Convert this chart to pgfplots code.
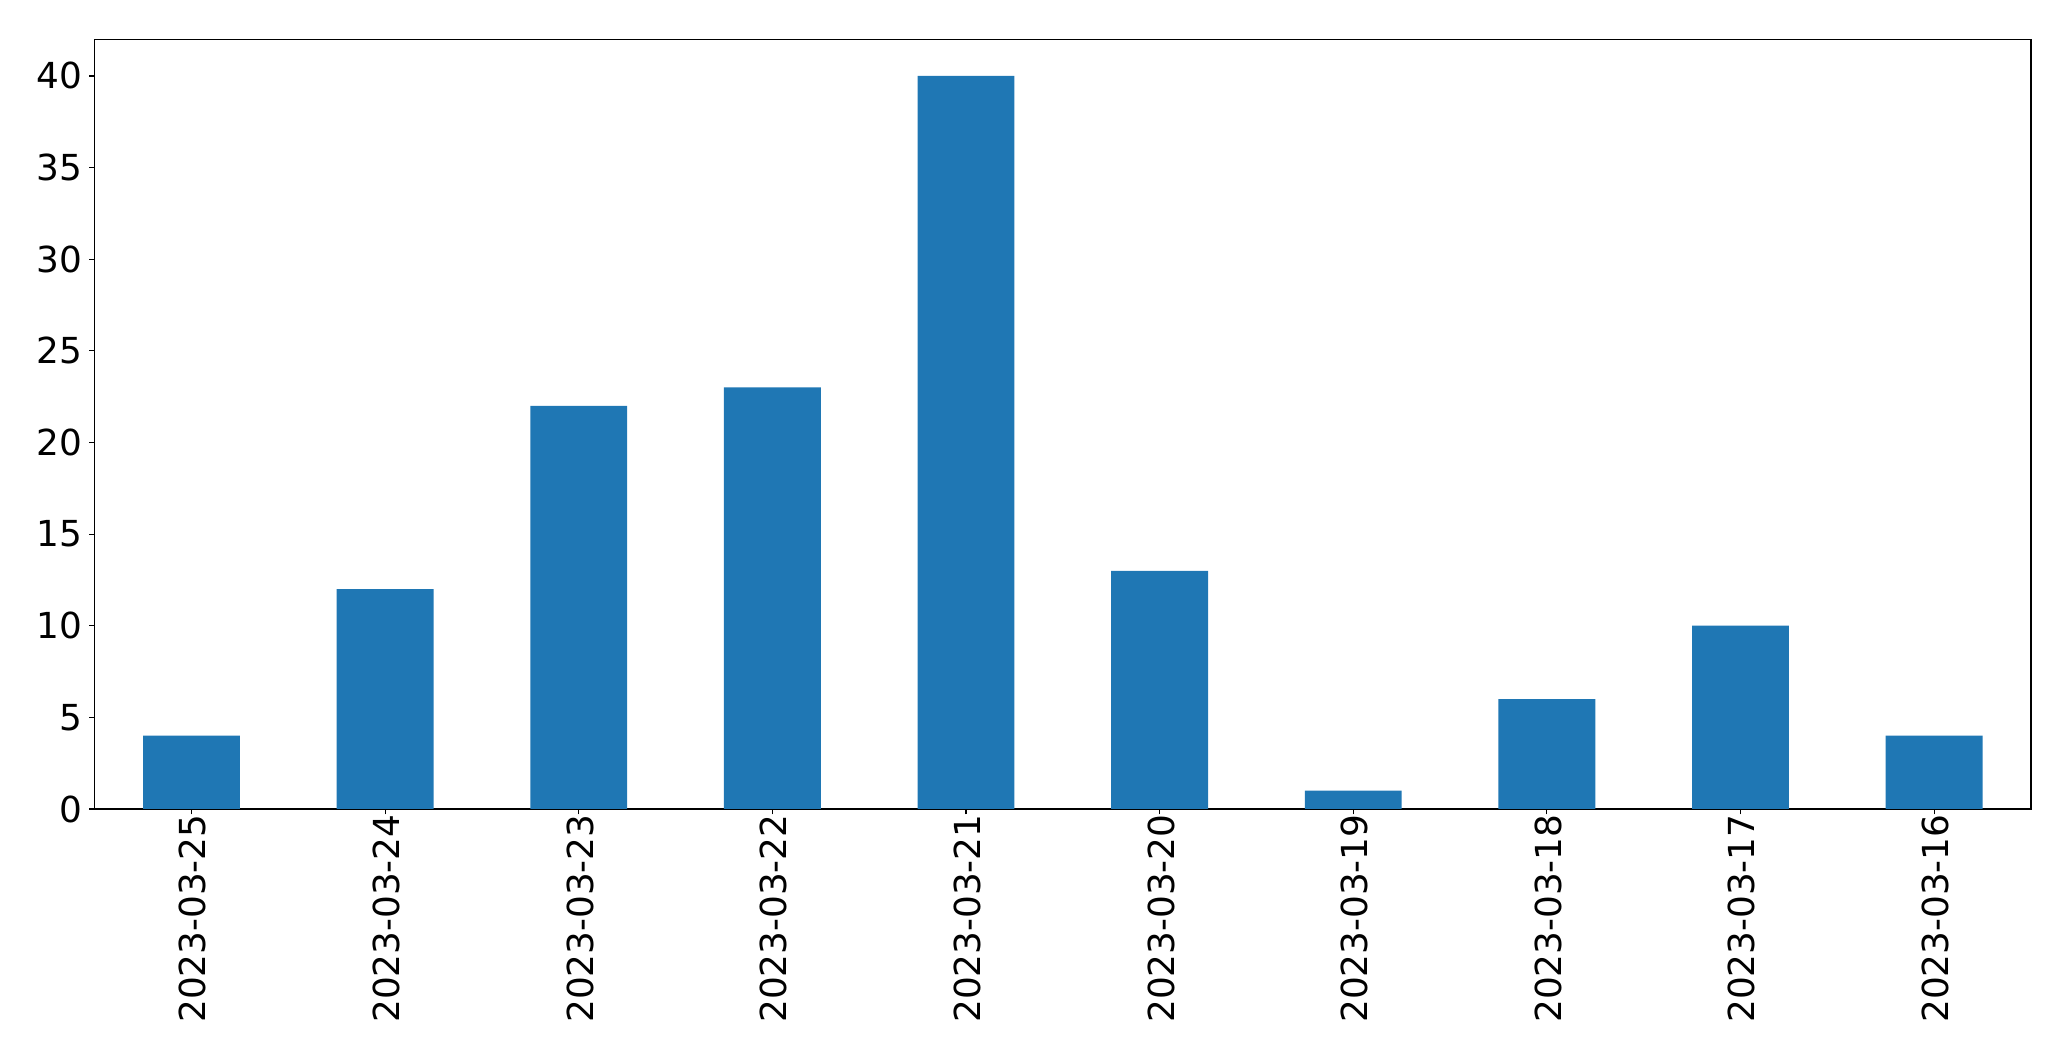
\documentclass[border=0pt]{standalone}
\usepackage{pgfplots}
\pgfplotsset{compat=1.18}
\usepackage{fontspec}
\setmainfont{DejaVu Sans}
\definecolor{mplblue}{HTML}{1F77B4}
\pgfplotstableread{
x y
0 4
1 12
2 22
3 23
4 40
5 13
6 1
7 6
8 10
9 4
}\datatable
\begin{document}
\begin{tikzpicture}
\useasboundingbox (-68.2bp,-181.4bp) rectangle (1423.0bp,582.5bp);
\begin{axis}[
  at={(0,0)}, anchor=south west,
  scale only axis,
  width=1394.1bp, height=554.2bp,
  xmin=-0.5, xmax=9.5, ymin=0, ymax=42,
  xtick=data,
  xticklabels={2023-03-25,2023-03-24,2023-03-23,2023-03-22,2023-03-21,2023-03-20,2023-03-19,2023-03-18,2023-03-17,2023-03-16},
  ytick={0,5,...,40},
  /pgf/number format/assume math mode=true,
  tick label style={font=\fontsize{25.8bp}{29bp}\selectfont},
  xticklabel style={rotate=90, anchor=east, inner sep=0pt, xshift=0bp, yshift=-1bp},
  yticklabel style={anchor=east, inner sep=0pt, xshift=-5bp},
  tick align=outside,
  major tick length=3.8bp,
  tick style={black, line width=0.8bp},
  xtick pos=bottom, ytick pos=left,
  axis line style={line width=0.8bp},
]
\addplot[ybar, bar width=0.5, bar shift=0pt, fill=mplblue, draw=none] table[x=x,y=y] {\datatable};
\end{axis}
\end{tikzpicture}
\end{document}
